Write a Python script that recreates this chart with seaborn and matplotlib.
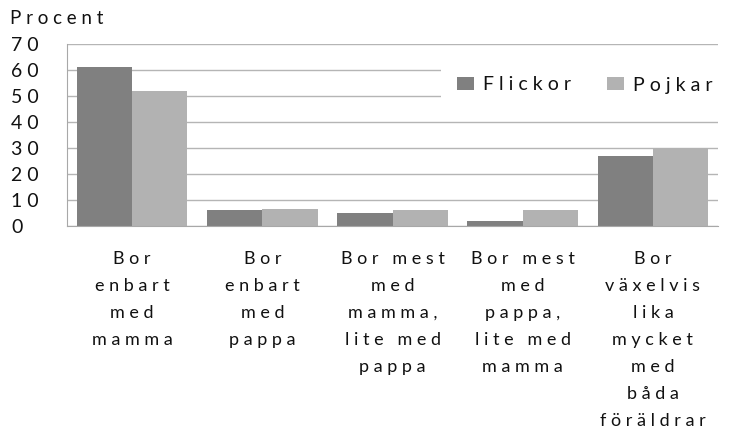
import numpy as np
import pandas as pd
import matplotlib
matplotlib.use("Agg")
import matplotlib.pyplot as plt
from matplotlib.ticker import FixedLocator
import seaborn as sns

categories = [
    "Bor\nenbart\nmed\nmamma",
    "Bor\nenbart\nmed\npappa",
    "Bor mest\nmed\nmamma,\nlite med\npappa",
    "Bor mest\nmed\npappa,\nlite med\nmamma",
    "Bor\nväxelvis\nlika\nmycket\nmed\nbåda\nföräldrar",
]
flickor = [61, 6, 5, 2, 27]
pojkar = [52, 6.5, 6, 6, 30]
series = ["Flickor", "Pojkar"]
yticks = [0, 10, 20, 30, 40, 50, 60, 70]
ylabel = "Procent"

LSEP = " "
WSEP = "   "


def spaced(s):
    return "\n".join(WSEP.join(LSEP.join(w) for w in line.split(" "))
                     for line in s.split("\n"))


sns.set_style("white")
plt.rcParams['font.family'] = ['Lato', 'DejaVu Sans']

df = pd.DataFrame({
    "Kategori": categories * 2,
    "Procent": flickor + pojkar,
    "Kön": [series[0]] * len(categories) + [series[1]] * len(categories),
})

W, H = 732, 434
fig = plt.figure(figsize=(W / 100, H / 100), dpi=100)
ax = fig.add_axes([67 / W, 1 - 226 / H, (718 - 67) / W, (226 - 44) / H])

sns.barplot(data=df, x="Kategori", y="Procent", hue="Kön",
            palette=["#808080", "#b2b2b2"], saturation=1, width=0.85,
            edgecolor="none", linewidth=0, ax=ax)

ax.set_xlim(-0.5, len(categories) - 0.5)
ax.set_ylim(0, 70)
ax.set_xlabel("")
ax.set_ylabel("")

gridc = "#b5b5b5"
ax.set_axisbelow(True)
ax.yaxis.grid(True, color=gridc, linewidth=1)
ax.xaxis.grid(False)
for s in ["top", "right"]:
    ax.spines[s].set_visible(False)
ax.spines["left"].set_color("#a8a8a8")
ax.spines["bottom"].set_color("#a8a8a8")

ax.set_yticks(yticks)
ax.set_yticklabels([spaced(str(v)) for v in yticks])
ax.tick_params(axis="y", direction="out", length=7.2, width=1, color=gridc,
               pad=33, labelsize=14, labelcolor="#111111")
for lab in ax.get_yticklabels():
    lab.set_horizontalalignment("left")

ax.set_xticks(range(len(categories)))
ax.set_xticklabels([spaced(c) for c in categories], fontsize=13,
                   color="#111111", linespacing=1.85)
ax.tick_params(axis="x", which="major", length=0, pad=18)
ax.xaxis.set_minor_locator(FixedLocator(np.arange(-0.5, len(categories), 1.0)))
ax.tick_params(axis="x", which="minor", direction="out", length=4, width=1,
               color="#a8a8a8")

fig.text(10 / W, 1 - 18 / H, spaced(ylabel), fontsize=13.5, color="#111111",
         ha="left", va="center")

handles, labels = ax.get_legend_handles_labels()
leg = ax.legend(handles, [spaced(l) for l in labels], ncol=2,
                loc="center", bbox_to_anchor=(585 / W, 1 - 85 / H),
                bbox_transform=fig.transFigure, frameon=True,
                facecolor="white", edgecolor="none", framealpha=1,
                fancybox=False, fontsize=14, handlelength=0.88,
                handleheight=0.62, handletextpad=0.46, columnspacing=1.85,
                borderpad=0.85)
for t in leg.get_texts():
    t.set_color("#111111")

fig.savefig("out.png", dpi=100)
